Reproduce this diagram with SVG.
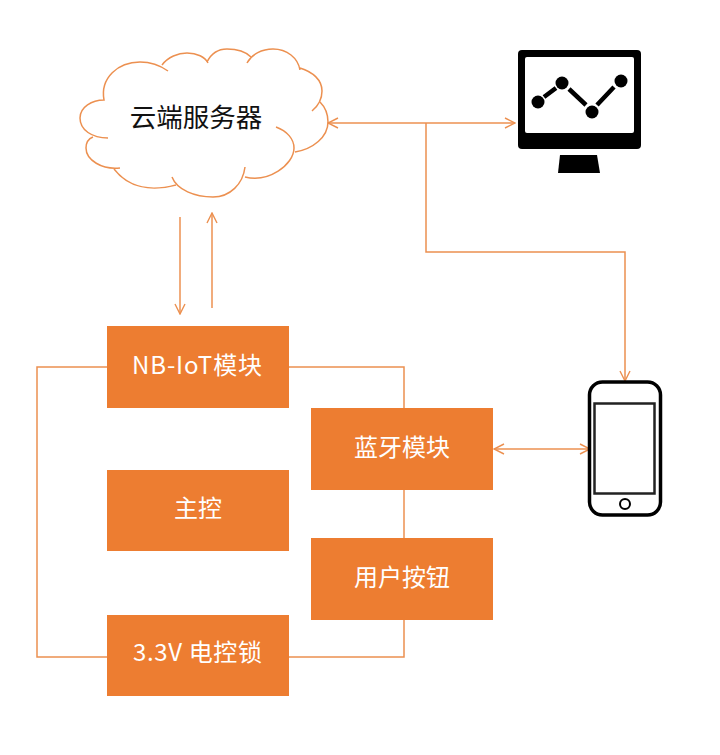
<svg xmlns="http://www.w3.org/2000/svg" width="720" height="755" viewBox="0 0 720 755">
<style>
.box{fill:#ed7d31}
.lbl{font-family:"Noto Sans CJK SC","Noto Sans",sans-serif;font-size:24px;fill:#fff;text-anchor:middle}
.line{fill:none;stroke:#ec9050;stroke-width:1.5}
.cloud{fill:none;stroke:#ec9050;stroke-width:1.5}
</style>
<defs>
<marker id="a" viewBox="0 0 12 12" refX="11" refY="6" markerWidth="12" markerHeight="12" markerUnits="userSpaceOnUse" orient="auto-start-reverse"><path d="M1 1L11 6L1 11" fill="none" stroke="#ec9050" stroke-width="1.4"/></marker>
</defs>
<rect width="720" height="755" fill="#fff"/>
<g id="connectors">
<path class="line" d="M107 367H37V657H107"/>
<path class="line" d="M289 367H404V408"/>
<path class="line" d="M404 490V538"/>
<path class="line" d="M404 620V657H289"/>
<path class="line" d="M180 217V314" marker-end="url(#a)"/>
<path class="line" d="M212 308V213" marker-end="url(#a)"/>
<path class="line" d="M328 123H515" marker-start="url(#a)" marker-end="url(#a)"/>
<path class="line" d="M426 123V252H625V381" marker-end="url(#a)"/>
<path class="line" d="M494 449H590" marker-start="url(#a)" marker-end="url(#a)"/>
</g>
<g id="cloud">
<path class="cloud" d="M108 138C92 138 80 130 80 118C80 107 92 100 104 100C100 78 118 62 140 62C150 62 161 66 168 71"/>
<path class="cloud" d="M162 65C168 57 178 53 187 53C197 53 205 57 208 63"/>
<path class="cloud" d="M207 62C211 54 218 49 227 49C237 49 246 52 251 57"/>
<path class="cloud" d="M247 63C252 54 262 49 273 49C287 49 298 58 300 70"/>
<path class="cloud" d="M300 68C313 72 322 80 322 91C322 99 318 106 312 111"/>
<path class="cloud" d="M320 102C325 107 328 114 328 122C328 137 313 149 295 152"/>
<path class="cloud" d="M276 127C287 131 294 139 294 148C294 165 268 183 245 177"/>
<path class="cloud" d="M245 167C243 184 230 197 213 197C195 197 177 190 172 177"/>
<path class="cloud" d="M176 185C150 192 128 187 114 169"/>
<path class="cloud" d="M120 168C102 170 86 160 86 148C86 143 88 139 93 137"/>
<text x="196" y="127" font-family="'Noto Sans CJK SC',sans-serif" font-size="26.500" fill="#111" text-anchor="middle">云端服务器</text>
</g>
<g id="monitor">
<rect x="518" y="50" width="123" height="99" rx="4" fill="#000"/>
<rect x="525" y="57" width="109" height="76" rx="2" fill="#fff"/>
<path d="M560 155H597L600 173H558Z" fill="#000"/>
<path d="M544 97L556 88M569 89L586 105M597 105L614 87" stroke="#000" stroke-width="4.500" fill="none"/>
<circle cx="538" cy="102" r="6.500"/><circle cx="562" cy="83" r="6.500"/><circle cx="592" cy="112" r="6.500"/><circle cx="621" cy="81" r="6.500"/>
</g>
<g id="phone">
<rect x="589.500" y="382" width="71" height="133" rx="13" fill="#fff" stroke="#000" stroke-width="3.500"/>
<rect x="594.500" y="403.500" width="60" height="90" fill="#fff" stroke="#222" stroke-width="2.500"/>
<circle cx="625" cy="504" r="5" fill="#fff" stroke="#000" stroke-width="2"/>
</g>
<g id="nbiot"><rect class="box" x="107" y="326" width="182" height="82"/><text class="lbl" x="197" y="374" textLength="130">NB-IoT模块</text></g>
<g id="mcu"><rect class="box" x="107" y="470" width="182" height="81"/><text class="lbl" x="198" y="517">主控</text></g>
<g id="lock"><rect class="box" x="107" y="615" width="182" height="81"/><text class="lbl" x="197.500" y="661" textLength="129">3.3V 电控锁</text></g>
<g id="ble"><rect class="box" x="311" y="408" width="182" height="82"/><text class="lbl" x="402" y="456">蓝牙模块</text></g>
<g id="button"><rect class="box" x="311" y="538" width="182" height="82"/><text class="lbl" x="402" y="586">用户按钮</text></g>
</svg>
